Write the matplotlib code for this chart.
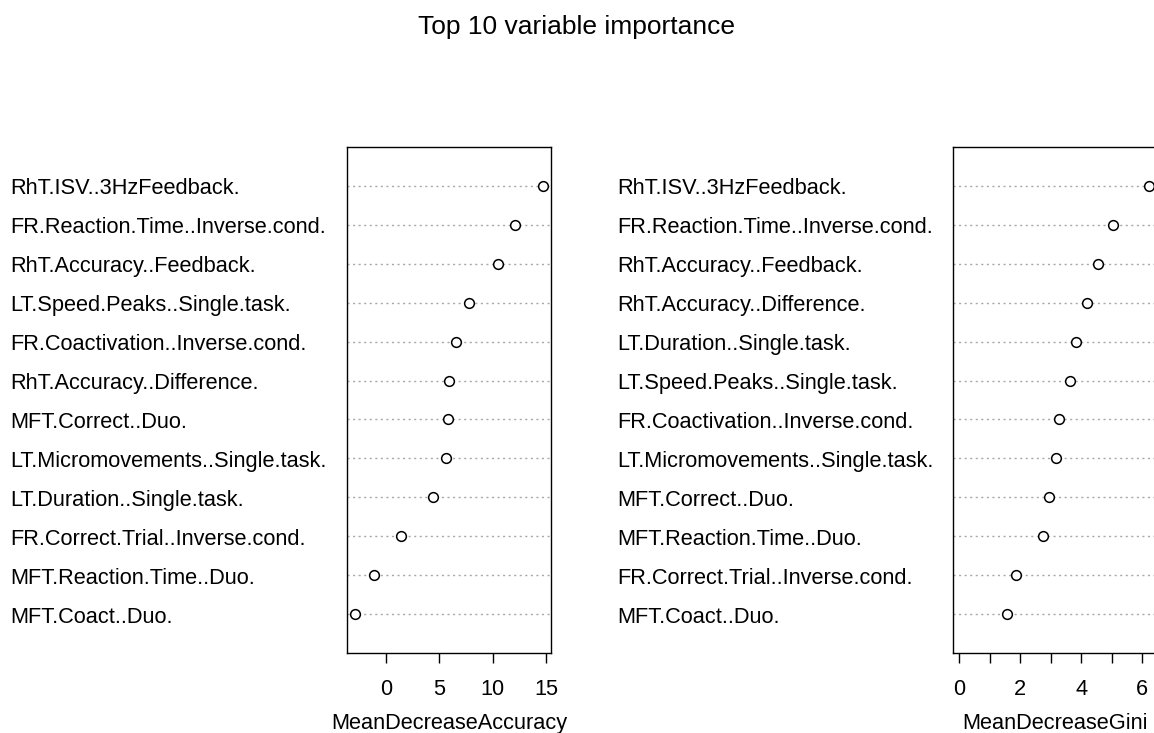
import matplotlib
matplotlib.use("Agg")
import matplotlib.pyplot as plt
import matplotlib.transforms as mtransforms
import numpy as np

plt.rcParams['font.family'] = ['Liberation Sans', 'DejaVu Sans']

# Variables listed top to bottom, as in the reference
acc_labels = ["RhT.ISV..3HzFeedback.", "FR.Reaction.Time..Inverse.cond.",
              "RhT.Accuracy..Feedback.", "LT.Speed.Peaks..Single.task.",
              "FR.Coactivation..Inverse.cond.", "RhT.Accuracy..Difference.",
              "MFT.Correct..Duo.", "LT.Micromovements..Single.task.",
              "LT.Duration..Single.task.", "FR.Correct.Trial..Inverse.cond.",
              "MFT.Reaction.Time..Duo.", "MFT.Coact..Duo."]
acc_values = [14.75, 12.13, 10.49, 7.75, 6.57, 5.93, 5.80, 5.65, 4.41, 1.39, -1.08, -2.93]

gini_labels = ["RhT.ISV..3HzFeedback.", "FR.Reaction.Time..Inverse.cond.",
               "RhT.Accuracy..Feedback.", "RhT.Accuracy..Difference.",
               "LT.Duration..Single.task.", "LT.Speed.Peaks..Single.task.",
               "FR.Coactivation..Inverse.cond.", "LT.Micromovements..Single.task.",
               "MFT.Correct..Duo.", "MFT.Reaction.Time..Duo.",
               "FR.Correct.Trial..Inverse.cond.", "MFT.Coact..Duo."]
gini_values = [6.24, 5.05, 4.56, 4.18, 3.82, 3.64, 3.27, 3.17, 2.94, 2.76, 1.86, 1.57]

W, H = 1154, 733
FS = 15.7
fig = plt.figure(figsize=(W / 100, H / 100), dpi=100)
fig.text(0.5, 1 - 27 / H, "Top 10 variable importance", ha="center", va="center", fontsize=19)


def dotchart(ax, labels, values, xlabel, xlim, ticks, ticklabels, label_x):
    n = len(values)
    ys = np.arange(n, 0, -1)
    for y in ys:
        ax.axhline(y, color="#a8a8a8", ls=(0, (1.5, 2.5)), lw=1.0, zorder=1)
    ax.plot(values, ys, ls="none", marker="o", mfc="white", mec="black",
            ms=7, mew=1.1, zorder=3, clip_on=False)
    ax.set_ylim(0, n + 1)
    ax.set_xlim(*xlim)
    ax.set_yticks([])
    ax.set_xticks(ticks)
    ax.set_xticklabels(ticklabels, fontsize=FS)
    ax.tick_params(axis="x", direction="out", length=7, width=1.0, pad=12)
    ax.set_xlabel(xlabel, fontsize=FS, labelpad=9)
    for s in ax.spines.values():
        s.set_linewidth(1.0)
    shift = mtransforms.ScaledTranslation(0, -3 / 100, fig.dpi_scale_trans)
    for y, lab in zip(ys, labels):
        ax.text(label_x, y, lab, transform=ax.get_yaxis_transform() + shift,
                ha="left", va="center", fontsize=FS)


ax1 = fig.add_axes([347 / W, 80 / H, 204 / W, 506 / H])
dotchart(ax1, acc_labels, acc_values, "MeanDecreaseAccuracy",
         (-3.64, 15.46), [0, 5, 10, 15], ["0", "5", "10", "15"], -(347 - 10) / 204)

ax2 = fig.add_axes([953 / W, 80 / H, 204 / W, 506 / H])
dotchart(ax2, gini_labels, gini_values, "MeanDecreaseGini",
         (-0.20, 6.49), [0, 1, 2, 3, 4, 5, 6], ["0", "", "2", "", "4", "", "6"],
         -(953 - 617) / 204)

fig.savefig("out.png", dpi=100)
